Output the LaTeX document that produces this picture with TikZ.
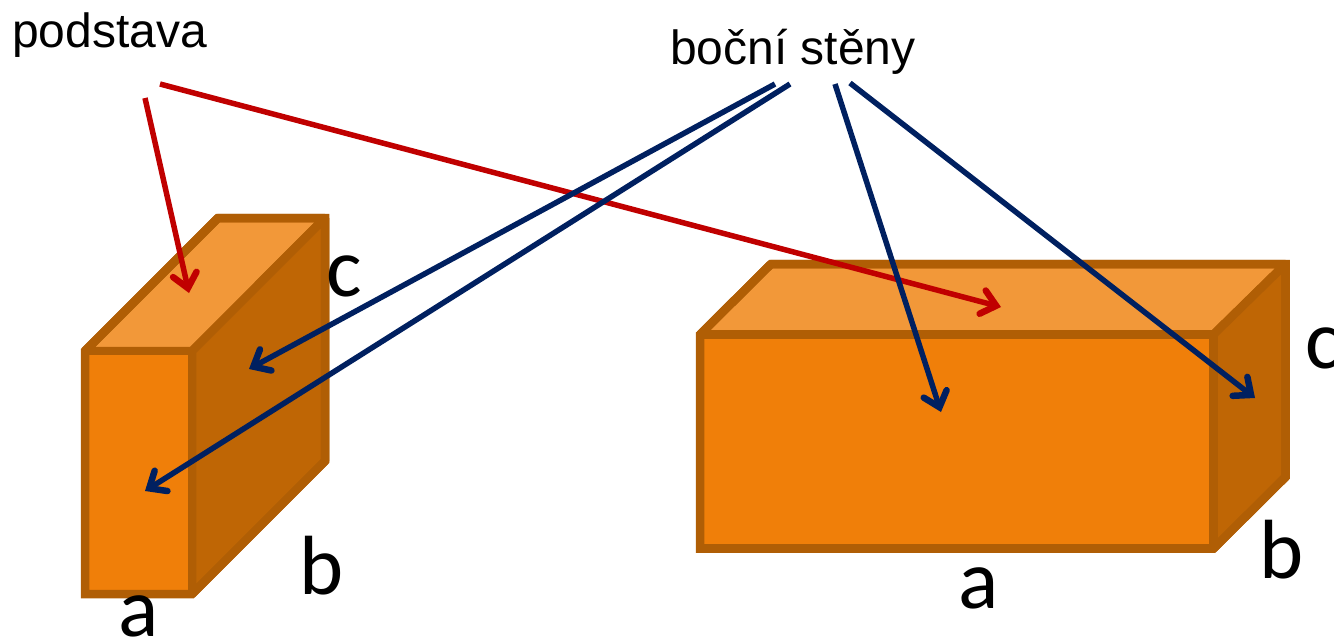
\documentclass[tikz,border=0pt]{standalone}
\usepackage{fontspec}
\setmainfont{Liberation Sans}
\newfontfamily\carl{Carlito}
\usetikzlibrary{arrows.meta}
\definecolor{frontc}{HTML}{F07F09}
\definecolor{topc}{HTML}{F29839}
\definecolor{sidec}{HTML}{BF6605}
\definecolor{edgec}{HTML}{B05E05}
\definecolor{redc}{HTML}{C00000}
\definecolor{navyc}{HTML}{002060}
\tikzset{
  face/.style={draw=edgec,line width=8.5pt,line join=bevel},
  outline/.style={draw=edgec,line width=8.5pt,line join=miter},
  sidelabel/.style={anchor=base,inner sep=0pt,font=\fontsize{48}{48}\selectfont},
  dimlabel/.style={anchor=base,inner sep=0pt,font=\carl\fontsize{84}{85}\selectfont},
  pointer/.style={line width=5.5pt,-{Straight Barb[length=14pt,width=24pt,line width=6.5pt,line cap=round,line join=miter]}},
  redline/.style={pointer,draw=redc},
  navyline/.style={pointer,draw=navyc}
}
\begin{document}
\begin{tikzpicture}[x=1pt,y=-1pt]
\useasboundingbox (0,0) rectangle (1334,641);
% left box
\fill[face,fill=topc] (85,351) -- (218,218) -- (325,218) -- (192,351) -- cycle;
\fill[face,fill=sidec] (192,351) -- (325,218) -- (325,461) -- (192,594) -- cycle;
\fill[face,fill=frontc] (85,351) rectangle (192,594);
\draw[outline] (85,351) -- (218,218) -- (325,218) -- (325,461) -- (192,594) -- (85,594) -- cycle;
% right box
\fill[face,fill=topc] (700,334.5) -- (771,264) -- (1285.5,264) -- (1213.5,334.5) -- cycle;
\fill[face,fill=sidec] (1213.5,334.5) -- (1285.5,264) -- (1285.5,477) -- (1213.5,548.5) -- cycle;
\fill[face,fill=frontc] (700,334.5) rectangle (1213.5,548.5);
\draw[outline] (700,334.5) -- (771,264) -- (1285.5,264) -- (1285.5,477) -- (1213.5,548.5) -- (700,548.5) -- cycle;
% labels
\node[sidelabel,anchor=base west] (podstava) at (12,47) {podstava};
\node[sidelabel] (steny) at (793,64) {boční stěny};
\node[dimlabel] (aL) at (139,636) {a};
\node[dimlabel] (bL) at (322,594) {b};
\node[dimlabel] (cL) at (344,296) {c};
\node[dimlabel] (aR) at (979,608) {a};
\node[dimlabel] (bR) at (1282,578) {b};
\node[dimlabel,anchor=base west] (cR) at (1305,368) {c};
% connector ends
\coordinate (r1s) at (145,98);
\coordinate (r1e) at (189,293);
\coordinate (r2s) at (160,84);
\coordinate (r2e) at (1001,307);
\coordinate (n1s) at (775,84);
\coordinate (n1e) at (249,369);
\coordinate (n2s) at (790,84);
\coordinate (n2e) at (145,491);
\coordinate (n3s) at (835,84);
\coordinate (n3e) at (941,412);
\coordinate (n4s) at (850,83);
\coordinate (n4e) at (1255,398);
\draw[redline] (r1s) -- (r1e);
\draw[redline] (r2s) -- (r2e);
\draw[navyline] (n1s) -- (n1e);
\draw[navyline] (n2s) -- (n2e);
\draw[navyline] (n3s) -- (n3e);
\draw[navyline] (n4s) -- (n4e);
\end{tikzpicture}
\end{document}
